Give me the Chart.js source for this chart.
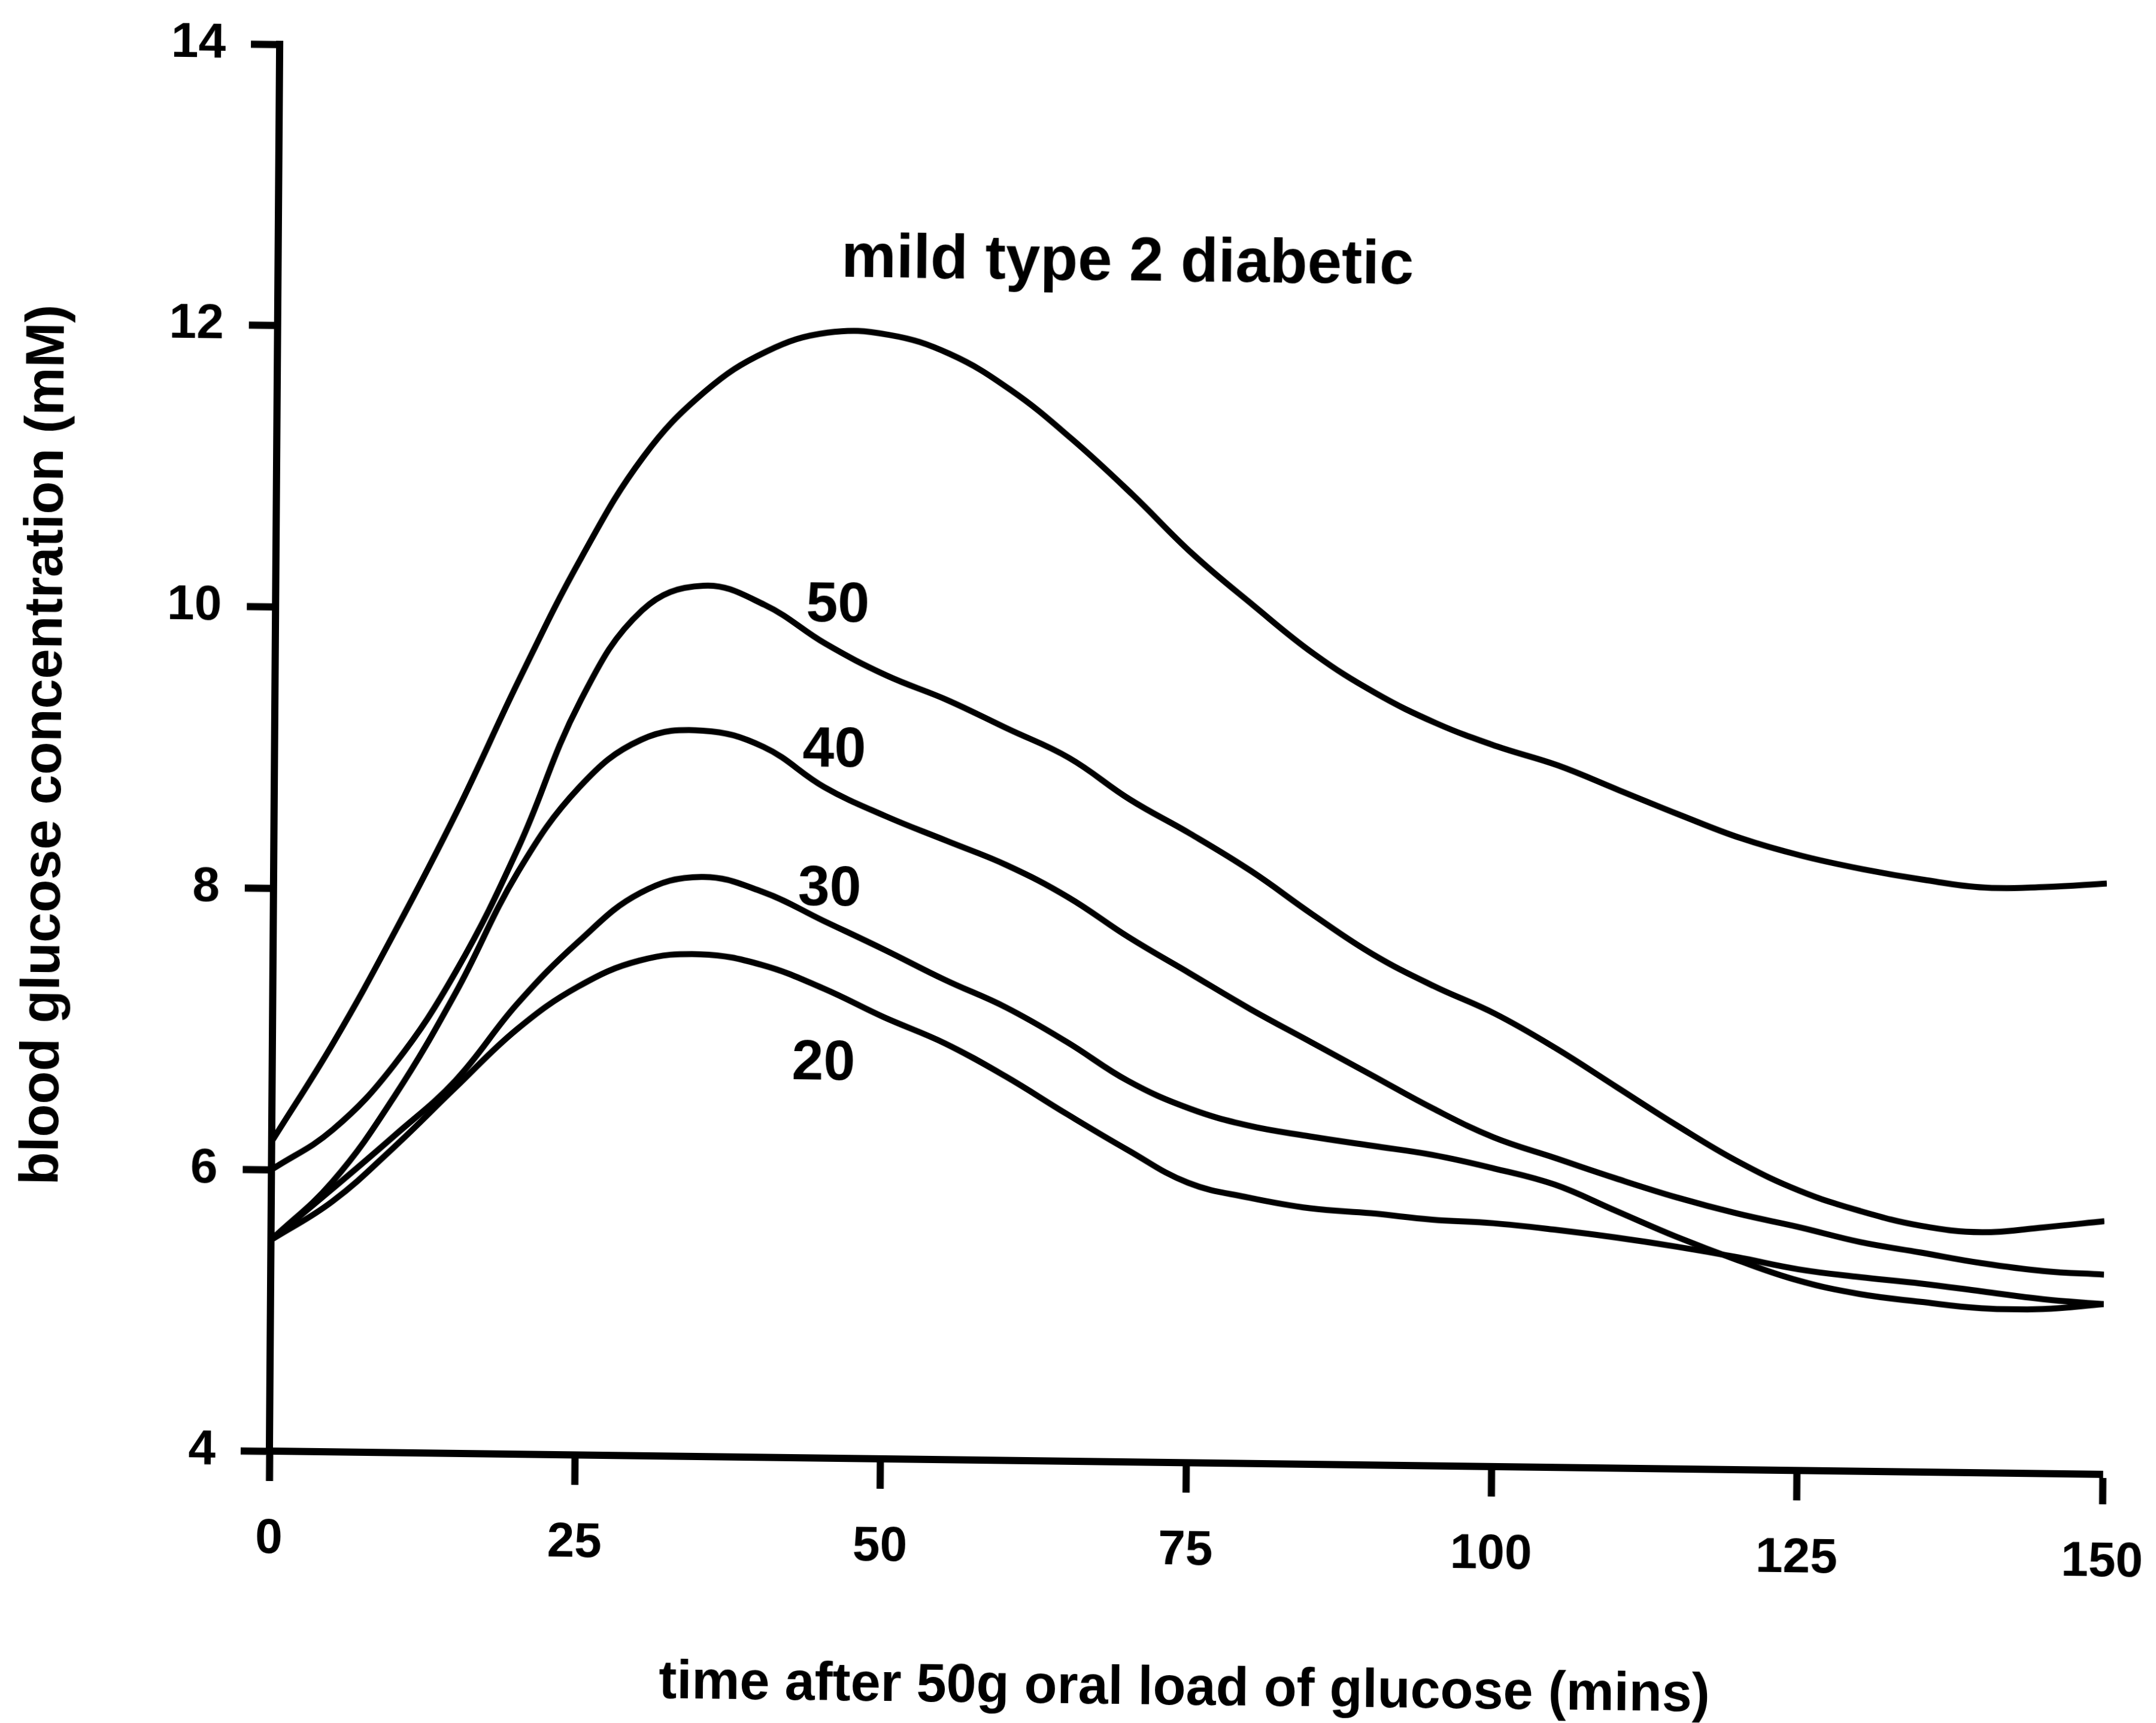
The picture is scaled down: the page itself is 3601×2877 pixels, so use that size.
<!DOCTYPE html>
<html>
<head>
<meta charset="utf-8">
<title>blood glucose after oral load</title>
<script src="https://cdn.jsdelivr.net/npm/chart.js@4.4.1/dist/chart.umd.min.js"></script>
<style>
  html, body { margin: 0; padding: 0; background: #fff; overflow: hidden; }
  /* the scanned figure is slightly skewed, so skew the canvas the same way around the origin */
  #chart { display: block; transform-origin: 450px 2423px; transform: matrix(1, 0.0127, -0.0073, 1, 0, 0); }
</style>
</head>
<body>
<canvas id="chart" width="3601" height="2877"></canvas>
<script>
// minutes after the glucose load
const times = [0, 5, 10, 15, 20, 25, 30, 35, 40, 45, 50, 55, 60, 65, 70, 75,
               80, 85, 90, 95, 100, 105, 110, 115, 120, 125, 130, 135, 140, 145, 150];

// blood glucose (mM)
const mildDiabetic = [6.20, 6.91, 7.71, 8.57, 9.51, 10.38, 11.10, 11.57, 11.86, 12.00, 11.99, 11.86, 11.61, 11.27, 10.88, 10.46,
                      10.10, 9.76, 9.49, 9.28, 9.12, 8.99, 8.82, 8.65, 8.49, 8.37, 8.28, 8.21, 8.16, 8.17, 8.20];
const curve50 = [6.00, 6.29, 6.76, 7.43, 8.31, 9.36, 10.01, 10.19, 10.06, 9.79, 9.57, 9.40, 9.20, 9.00, 8.71, 8.47,
                 8.21, 7.91, 7.63, 7.41, 7.22, 6.98, 6.71, 6.44, 6.19, 5.99, 5.85, 5.75, 5.71, 5.75, 5.80];
const curve40 = [5.50, 5.92, 6.53, 7.28, 8.14, 8.75, 9.09, 9.16, 9.05, 8.77, 8.57, 8.40, 8.23, 8.01, 7.73, 7.48,
                 7.23, 7.00, 6.77, 6.54, 6.34, 6.20, 6.06, 5.93, 5.82, 5.73, 5.63, 5.56, 5.49, 5.44, 5.42];
const curve30 = [5.50, 5.87, 6.25, 6.65, 7.20, 7.65, 8.00, 8.12, 8.02, 7.82, 7.62, 7.41, 7.22, 6.98, 6.71, 6.52,
                 6.40, 6.33, 6.27, 6.21, 6.12, 6.01, 5.83, 5.65, 5.49, 5.35, 5.26, 5.21, 5.17, 5.17, 5.21];
const curve20 = [5.50, 5.78, 6.17, 6.60, 7.02, 7.33, 7.52, 7.57, 7.50, 7.34, 7.14, 6.96, 6.73, 6.47, 6.22, 5.99,
                 5.89, 5.82, 5.79, 5.75, 5.73, 5.69, 5.64, 5.58, 5.51, 5.43, 5.38, 5.34, 5.29, 5.24, 5.21];

const seriesNames = ["mild type 2 diabetic", "50", "40", "30", "20"];
const seriesValues = [mildDiabetic, curve50, curve40, curve30, curve20];

// text written next to the curves, anchored in data units (minutes, mM)
const labelText = ["mild type 2 diabetic", "50", "40", "30", "20"];
const labelTime = [69.5, 46.0, 45.8, 45.5, 45.1];
const labelLevel = [12.52, 10.06, 9.03, 8.04, 6.80];

const xTitle = "time after 50g oral load of glucose (mins)";
const yTitle = "blood glucose concentration (mM)";

const FONT = '"Liberation Sans", Arial, sans-serif';
Chart.defaults.font.family = FONT;
Chart.defaults.font.weight = "bold";
Chart.defaults.color = "#000";

const curveLabels = {
    id: "curveLabels",
    afterDatasetsDraw(chart) {
        const { ctx } = chart;
        const xs = chart.scales.x, ys = chart.scales.y;
        ctx.save();
        ctx.fillStyle = "#000";
        ctx.textAlign = "center";
        ctx.textBaseline = "middle";
        for (let i = 0; i < labelText.length; i++) {
            ctx.font = "bold " + (i === 0 ? 103 : 95) + "px " + FONT;
            ctx.fillText(labelText[i], xs.getPixelForValue(labelTime[i]), ys.getPixelForValue(labelLevel[i]));
        }
        ctx.restore();
    }
};

const datasets = seriesNames.map((name, k) => ({
    label: name,
    data: times.map((t, i) => ({ x: t, y: seriesValues[k][i] })),
    borderColor: "#000",
    borderWidth: 10,
    pointRadius: 0,
    fill: false,
    tension: 0.4
}));

new Chart(document.getElementById("chart"), {
    type: "line",
    data: { datasets: datasets },
    plugins: [curveLabels],
    options: {
        responsive: false,
        animation: false,
        layout: { padding: { top: 74, right: 89, left: 0, bottom: 0 } },
        plugins: {
            legend: { display: false },
            tooltip: { enabled: false }
        },
        scales: {
            x: {
                type: "linear",
                min: 0,
                max: 150,
                // fixed box; drop the label overhang padding so the plot edge stays put
                afterFit: (s) => { s.height = 454; s.paddingLeft = 0; s.paddingRight = 0; },
                border: { display: true, color: "#000", width: 12 },
                grid: { drawOnChartArea: false, drawTicks: true, tickLength: 50, tickWidth: 12, tickColor: "#000", color: "#000" },
                ticks: { stepSize: 25, padding: 48, color: "#000", font: { size: 82, weight: "bold" } },
                title: { display: true, text: xTitle, color: "#000", padding: { top: 0, bottom: 21 }, font: { size: 90, weight: "bold" } }
            },
            y: {
                min: 4,
                max: 14,
                afterFit: (s) => { s.width = 450; s.paddingTop = 0; s.paddingBottom = 0; },
                border: { display: true, color: "#000", width: 12 },
                grid: { drawOnChartArea: false, drawTicks: true, tickLength: 48, tickWidth: 12, tickColor: "#000", color: "#000" },
                ticks: { stepSize: 2, padding: 42, color: "#000", font: { size: 82, weight: "bold" } },
                title: { display: true, text: yTitle, color: "#000", padding: { top: 14, bottom: 0 }, font: { size: 90, weight: "bold" } }
            }
        }
    }
});
</script>
</body>
</html>
